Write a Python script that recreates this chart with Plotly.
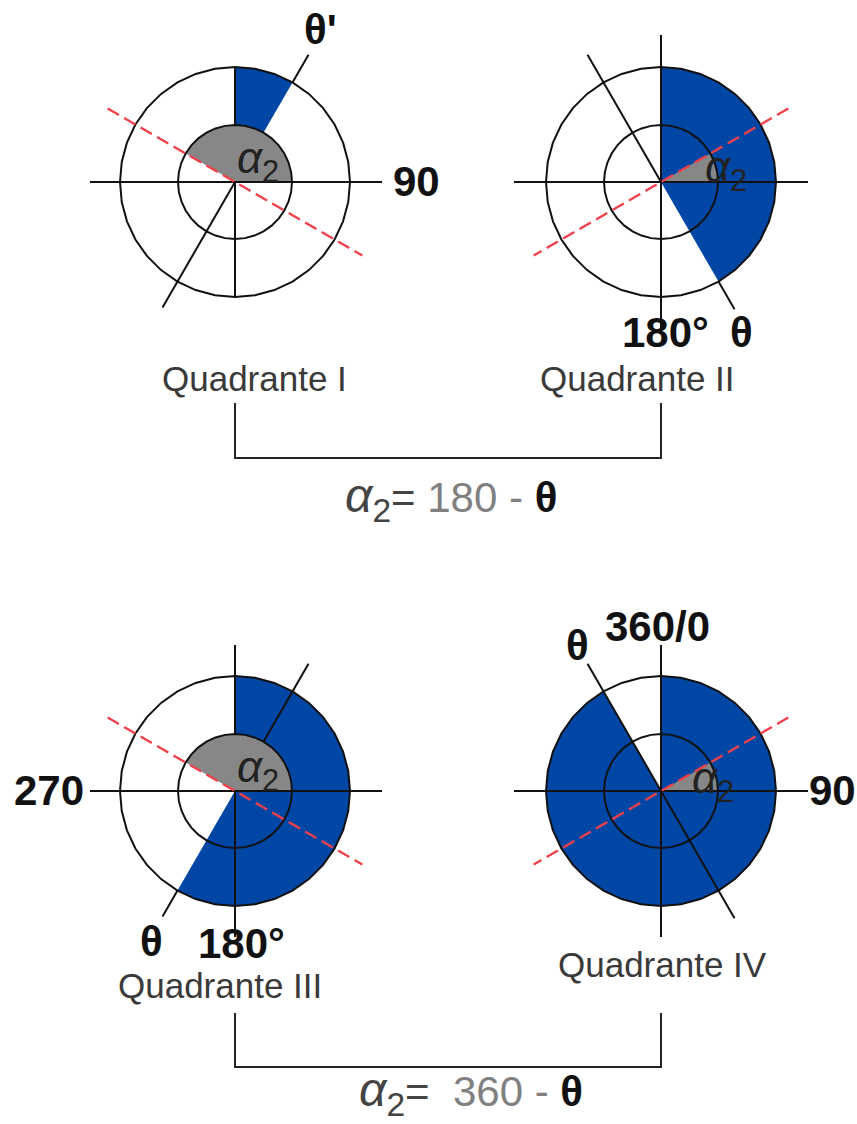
import plotly.graph_objects as go

W, H = 857, 1124

# one entry per quadrant panel, angles are clockwise from the top
QUADRANTS = ["I", "II", "III", "IV"]
BLUE_START = [0, 0, 0, 0]
BLUE_END = [30, 150, 210, 330]
GRAY_START = [300, 60, 300, 60]
GRAY_END = [90, 90, 90, 90]
RED_ANGLE = [300, 60, 300, 60]
RED_LEN = 147
INNER_R = 57
OUTER_R = 115
RING_THETA = list(range(0, 361, 10))

# black spokes: (angle, from radius, to radius)
SPOKES = [
    [(0, 57, 115), (180, 0, 115), (90, 0, 147), (270, 0, 145), (30, 115, 147), (210, 0, 145)],
    [(0, 0, 147), (180, 0, 146), (90, 0, 147), (270, 0, 147), (330, 0, 147), (150, 115, 147)],
    [(0, 57, 146), (180, 0, 146), (90, 0, 147), (270, 0, 145), (30, 57, 147), (210, 115, 145)],
    [(0, 0, 146), (180, 0, 146), (90, 0, 147), (270, 0, 147), (330, 0, 147), (150, 0, 147)],
]

BIG_LABELS = ["θ'", "90", "180°", "θ", "270", "θ", "180°", "360/0", "θ", "90"]
QUAD_LABELS = ["Quadrante I", "Quadrante II", "Quadrante III", "Quadrante IV"]
FORMULA_VALUES = ["180", "\u00a0360"]

# layout, in pixels of the page
CENTERS = [(235, 182), (661, 182), (235, 791), (661, 791)]
BIG_POS = [(320, 30), (416, 182), (665, 332), (741, 332), (49, 790),
           (151, 941), (241, 943), (657, 626), (577, 645), (832, 790)]
QUAD_POS = [(254, 378), (637, 378), (220, 985), (662, 964)]
ALPHA_POS = [(258, 161), (726, 170), (258, 770), (713, 781)]
FORMULA_POS = [(451, 499), (471, 1093)]
BRACKET_Y = [(403, 458), (1013, 1067)]
BRACKET_X = (235, 661)
HALF = 150

BLUE = "#0047a5"
GRAY = "#878787"
INK = "#111111"
RED = "#f2404a"
FONT = "Liberation Sans"


def px(x, y):
    return x / W, 1 - y / H


fig = go.Figure()

for i, name in enumerate(QUADRANTS):
    sub = "polar" if i == 0 else f"polar{i + 1}"
    span = (BLUE_END[i] - BLUE_START[i]) % 360
    fig.add_trace(go.Barpolar(
        r=[OUTER_R], theta=[BLUE_START[i] + span / 2], width=[span],
        marker=dict(color=BLUE, line=dict(width=0)), subplot=sub, name=name))
    span = (GRAY_END[i] - GRAY_START[i]) % 360
    fig.add_trace(go.Barpolar(
        r=[INNER_R], theta=[GRAY_START[i] + span / 2], width=[span],
        marker=dict(color=GRAY, line=dict(width=0)), subplot=sub, name=name))

    for radius in (INNER_R, OUTER_R):
        fig.add_trace(go.Scatterpolar(
            r=[radius] * len(RING_THETA), theta=RING_THETA, mode="lines",
            line=dict(color=INK, width=2), subplot=sub))

    for angle, r0, r1 in SPOKES[i]:
        fig.add_trace(go.Scatterpolar(
            r=[r0, r1], theta=[angle, angle], mode="lines",
            line=dict(color=INK, width=2), subplot=sub))

    fig.add_trace(go.Scatterpolar(
        r=[RED_LEN, 0, RED_LEN], theta=[RED_ANGLE[i], 0, RED_ANGLE[i] + 180], mode="lines",
        line=dict(color=RED, width=2.4, dash="13px,6px"), subplot=sub))

    cx, cy = CENTERS[i]
    x0, y1 = px(cx - HALF, cy - HALF)
    x1, y0 = px(cx + HALF, cy + HALF)
    fig.update_layout(**{sub: dict(
        domain=dict(x=[x0, x1], y=[y0, y1]),
        bgcolor="rgba(0,0,0,0)",
        barmode="overlay",
        bargap=0,
        radialaxis=dict(visible=False, range=[0, HALF]),
        angularaxis=dict(visible=False, rotation=90, direction="clockwise"),
    )})


def label(text, pos, size, color, bold=False):
    x, y = px(*pos)
    fig.add_annotation(
        x=x, y=y, xref="paper", yref="paper", xanchor="center", yanchor="middle",
        text=f"<b>{text}</b>" if bold else text, showarrow=False,
        font=dict(family=FONT, size=size, color=color))


for text, pos in zip(BIG_LABELS, BIG_POS):
    label(text, pos, 42, "#111111", bold=True)
for text, pos in zip(QUAD_LABELS, QUAD_POS):
    label(text, pos, 35, "#3a3a3a")
for pos in ALPHA_POS:
    label("<i>α</i><sub>2</sub>", pos, 44, "#222222")
for value, pos in zip(FORMULA_VALUES, FORMULA_POS):
    text = ("<span style='font-size:48px'><i>α</i><sub>2</sub></span>"
            f"=\u00a0<span style='color:#808080'>{value} - </span>"
            "<b style='color:#111111'>θ</b>")
    label(text, pos, 42, "#444444")

for top, bottom in BRACKET_Y:
    xl, yt = px(BRACKET_X[0], top)
    xr, yb = px(BRACKET_X[1], bottom)
    fig.add_shape(type="path", xref="paper", yref="paper",
                  path=f"M {xl} {yt} L {xl} {yb} L {xr} {yb} L {xr} {yt}",
                  line=dict(color="#222222", width=2))

fig.update_layout(
    width=W, height=H, showlegend=False,
    margin=dict(l=0, r=0, t=0, b=0),
    paper_bgcolor="white", plot_bgcolor="white",
)

# the page's default body margin would push the figure off the window
fig.write_html("out.html", config={"displayModeBar": False},
               post_script="document.body.style.margin='0';")
